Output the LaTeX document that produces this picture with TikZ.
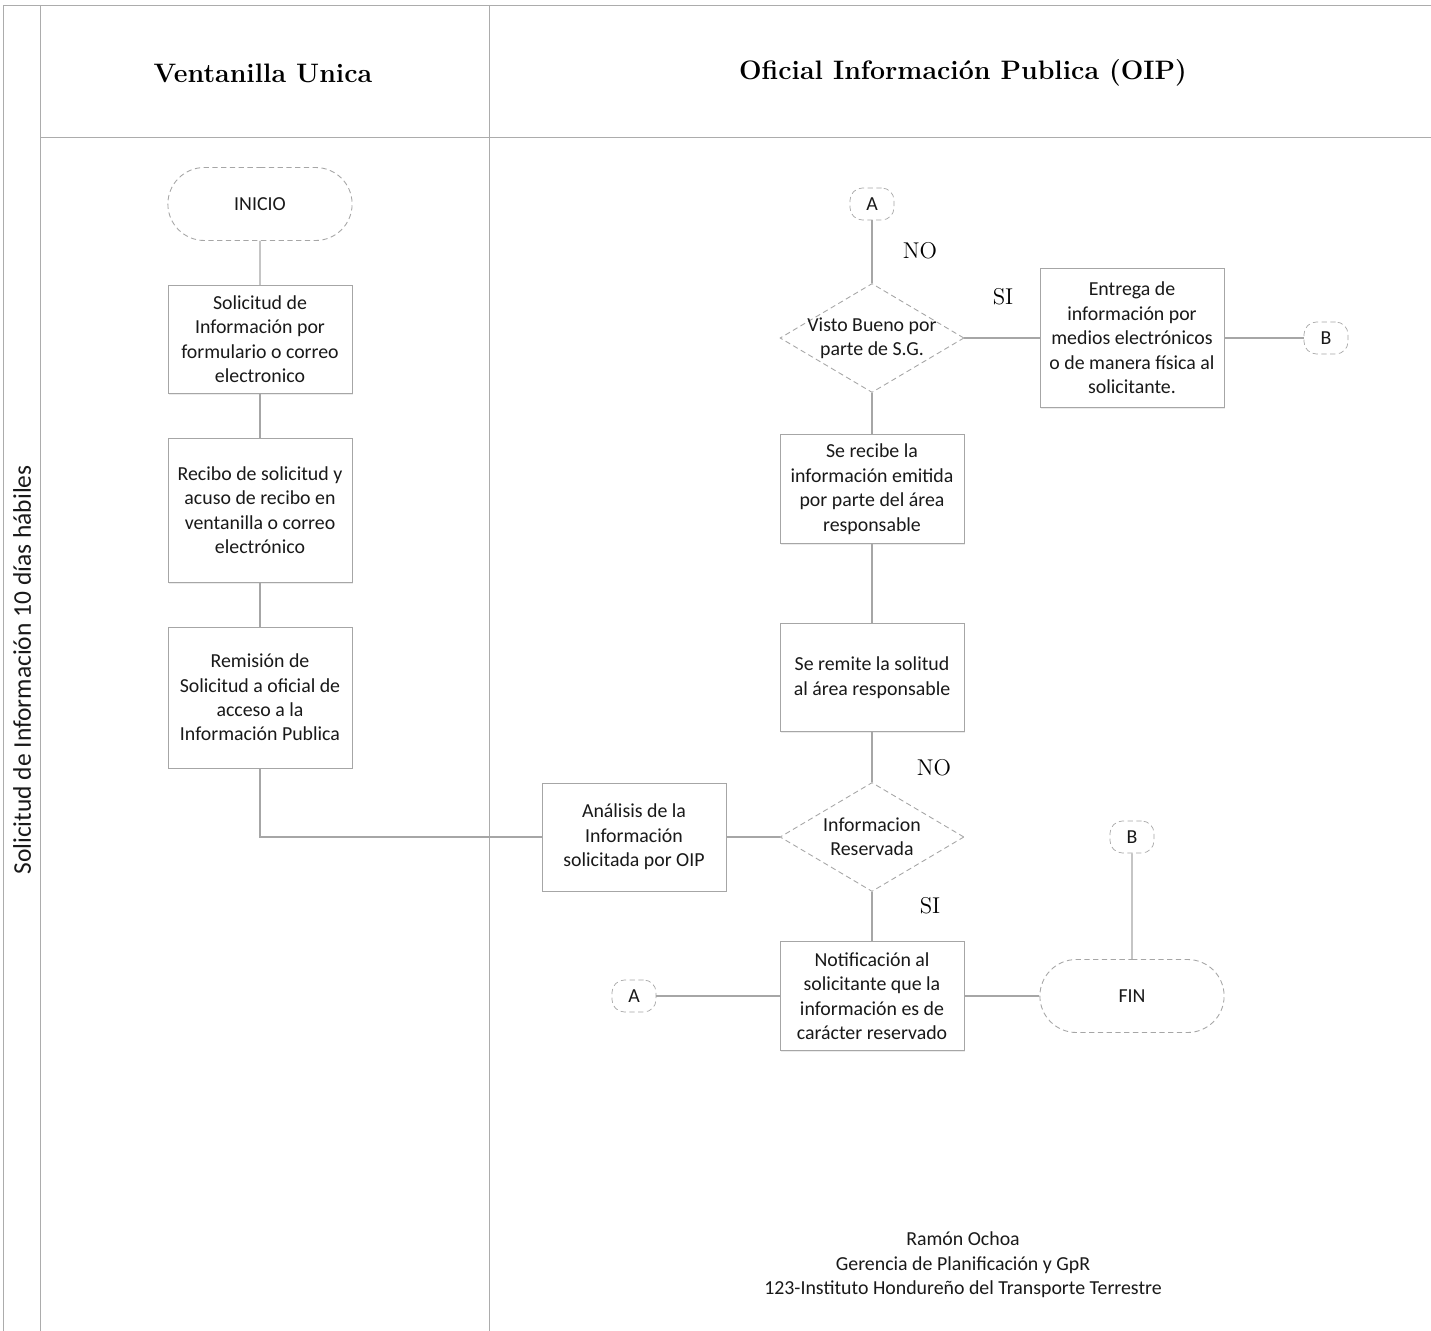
\documentclass[tikz,border=0pt]{standalone}
\usepackage{fontspec}
\newfontfamily\calibri{Carlito}
\usetikzlibrary{positioning,shapes.geometric,shapes.misc,shadows}

\tikzset{
    lane/.style={draw=gray!65, line width=0.5pt},
    link/.style={draw=gray!70, line width=0.6pt},
    head/.style={font=\bfseries\fontsize{15.2}{18}\selectfont},
    yesno/.style={font=\fontsize{13}{15}\selectfont},
    body/.style={font=\calibri\fontsize{11.3}{13.9}\selectfont, text=black!90},
    proc/.style={body, draw=gray!70, fill=white, line width=0.5pt,
        minimum width=3.68cm, align=center, inner sep=1pt,
        drop shadow={shadow xshift=0.8pt, shadow yshift=-0.8pt, opacity=0.15}},
    term/.style={body, rounded rectangle, draw=gray!70, fill=white, densely dashed,
        line width=0.5pt, minimum width=3.92cm, minimum height=1.46cm},
    decide/.style={diamond, draw=gray!70, densely dashed, line width=0.5pt,
        fill=white, minimum width=3.68cm, minimum height=2.18cm, inner sep=0pt},
    jump/.style={body, draw=gray!70, densely dashed, rounded corners=7pt, fill=white,
        minimum width=0.88cm, minimum height=0.64cm, inner sep=0pt},
}

\begin{document}
\begin{tikzpicture}[x=0.02cm, y=-0.02cm]
    \useasboundingbox (0,0) rectangle (1431,1331);

    % lanes
    \draw[lane] (3,5) -- (1431,5);
    \draw[lane] (3,5) -- (3,1331);
    \draw[lane] (40,5) -- (40,1331);
    \draw[lane] (489,5) -- (489,1331);
    \draw[lane] (40,137) -- (1431,137);

    \node[head] (h1) at (263,73) {Ventanilla Unica};
    \node[head] (h2) at (963,73) {Oficial Información Publica (OIP)};
    \node[body, rotate=90, font=\calibri\fontsize{14.5}{17}\selectfont] (lanelbl) at (22,670)
        {Solicitud de Información 10 días hábiles};

    % ventanilla
    \node[term] (inicio) at (260,204) {INICIO};
    \node[proc, minimum height=2.16cm, below=0.88cm of inicio] (v1)
        {Solicitud de\\Información por\\formulario o correo\\electronico};
    \node[proc, minimum height=2.88cm, below=0.88cm of v1] (v2)
        {Recibo de solicitud y\\acuso de recibo en\\ventanilla o correo\\electrónico};
    \node[proc, minimum height=2.82cm, below=0.88cm of v2] (v3)
        {Remisión de\\Solicitud a oficial de\\acceso a la\\Información Publica};

    % oip
    \node[proc, minimum height=2.16cm] (o1) at (634,837)
        {Análisis de la\\Información\\solicitada por OIP};
    \node[decide, label={[body, align=center]center:Informacion\\Reservada}] (d2) at (872,837) {};
    \node[proc, minimum height=2.16cm, above=1cm of d2] (o2)
        {Se remite la solitud\\al área responsable};
    \node[proc, minimum height=2.18cm, above=1.58cm of o2] (o3)
        {Se recibe la\\información emitida\\por parte del área\\responsable};
    \node[decide, label={[body, align=center]center:Visto Bueno por\\parte de S.G.}] (d1) at (872,338) {};
    \node[jump] (ca1) at (872,204) {A};
    \node[proc, minimum height=2.78cm] (o4) at (1132,338)
        {Entrega de\\información por\\medios electrónicos\\o de manera física al\\solicitante.};
    \node[jump] (cb1) at (1326,338) {B};
    \node[proc, minimum height=2.18cm] (o5) at (872,996)
        {Notificación al\\solicitante que la\\información es de\\carácter reservado};
    \node[jump] (ca2) at (634,996) {A};
    \node[term] (fin) at (1132,996) {FIN};
    \node[jump] (cb2) at (1132,837) {B};

    \node[yesno] (no1) at (920,251) {NO};
    \node[yesno] (si1) at (1003,297) {SI};
    \node[yesno] (no2) at (934,768) {NO};
    \node[yesno] (si2) at (930,906) {SI};

    % links
    \draw[link] (inicio) -- (v1);
    \draw[link] (v1) -- (v2);
    \draw[link] (v2) -- (v3);
    \draw[link] (v3.south) |- (o1.west);
    \draw[link] (o1) -- (d2);
    \draw[link] (d2) -- (o2);
    \draw[link] (o2) -- (o3);
    \draw[link] (o3) -- (d1);
    \draw[link] (d1) -- (ca1);
    \draw[link] (d1) -- (o4);
    \draw[link] (o4) -- (cb1);
    \draw[link] (d2) -- (o5);
    \draw[link] (ca2) -- (o5);
    \draw[link] (o5) -- (fin);
    \draw[link] (cb2) -- (fin);

    \node[body, align=center] (firma) at (963,1265)
        {Ramón Ochoa\\Gerencia de Planificación y GpR\\123-Instituto Hondureño del Transporte Terrestre};
\end{tikzpicture}
\end{document}
